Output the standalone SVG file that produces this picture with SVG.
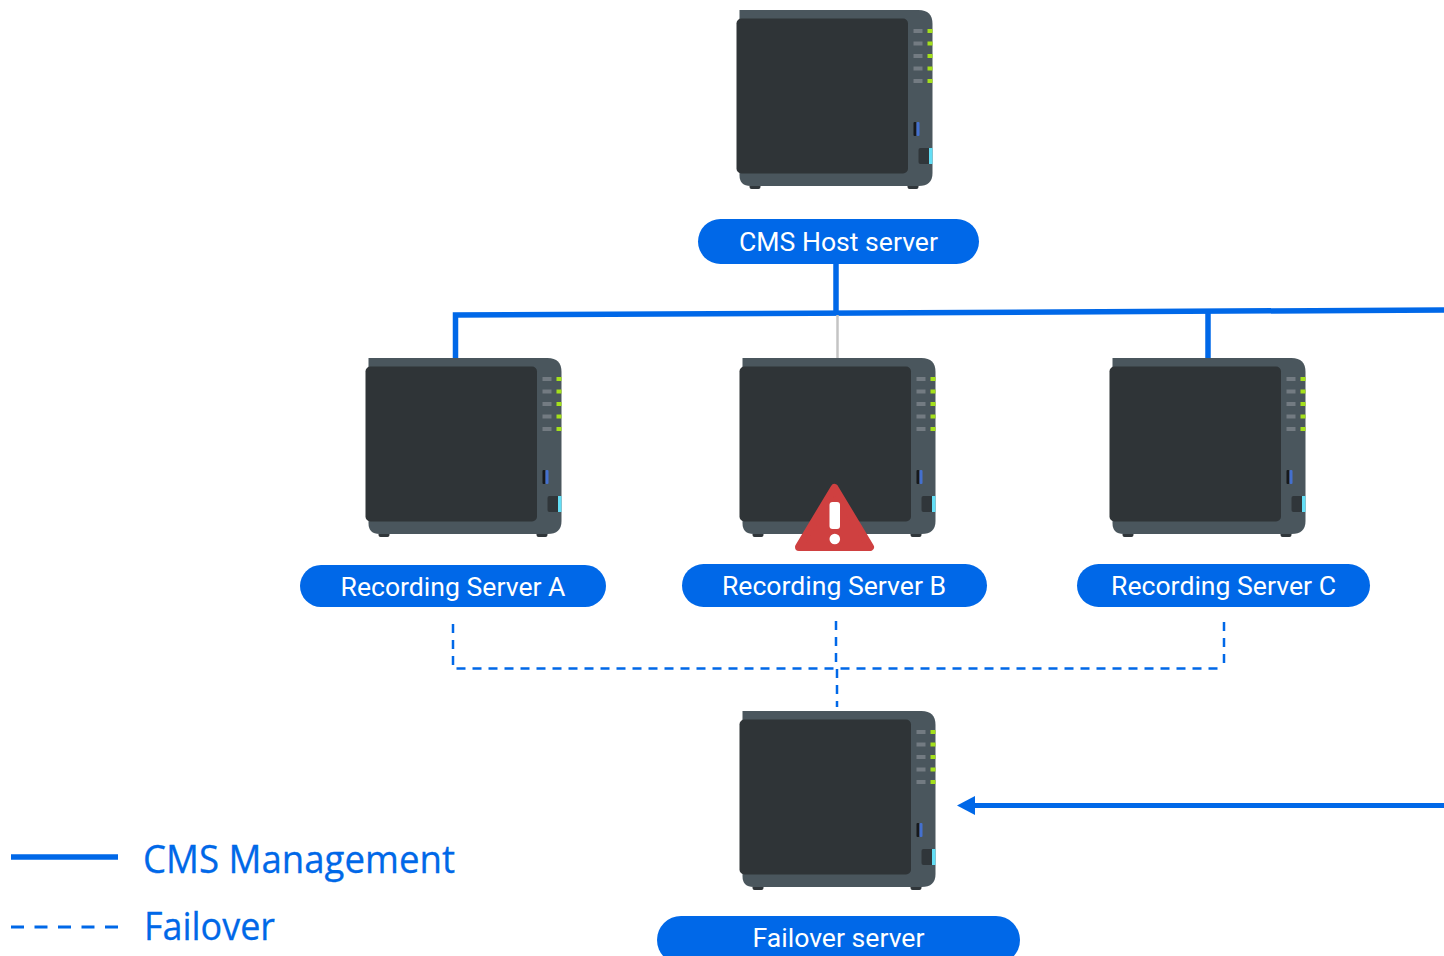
<svg xmlns="http://www.w3.org/2000/svg" width="1444" height="956" viewBox="0 0 1444 956">
<style>
.pill{fill:#0068e8}
.lbl{font-family:Roboto,"Liberation Sans",sans-serif;font-size:26.600px;fill:#fff;text-anchor:middle}
.leg{font-family:"Open Sans","Noto Sans",sans-serif;font-size:38px;fill:#0068e8;stroke:#0068e8;stroke-width:.3}
.solid{fill:none;stroke:#0068e8;stroke-width:5.500}
.dash{fill:none;stroke:#0068e8;stroke-width:2.500;stroke-dasharray:9 7}
</style>
<defs>
<g id="nas">
<path d="M13 176H24V177Q24 179 22 179H15Q13 179 13 177ZM171 176H182V177Q182 179 180 179H173Q171 179 171 177Z" fill="#30363a"/>
<path d="M3 0H182Q196 0 196 14V163Q196 176 182 176H14Q3 176 3 165Z" fill="#4a565d"/>
<rect x="0" y="8.500" width="171.500" height="155" rx="5" fill="#2f3437"/>
<g fill="#737b82"><rect x="177" y="19" width="9" height="4"/><rect x="177" y="31.500" width="9" height="4"/><rect x="177" y="44" width="9" height="4"/><rect x="177" y="56.500" width="9" height="4"/><rect x="177" y="69" width="9" height="4"/></g>
<g fill="#a4e01b"><rect x="191" y="19" width="5" height="4"/><rect x="191" y="31.500" width="5" height="4"/><rect x="191" y="44" width="5" height="4"/><rect x="191" y="56.500" width="5" height="4"/><rect x="191" y="69" width="5" height="4"/></g>
<rect x="177" y="112" width="3" height="14" rx="1" fill="#17191b"/>
<rect x="180" y="112" width="3" height="14" rx="1" fill="#4470cf"/>
<path d="M184 138H193V154H184Q182 154 182 152V140Q182 138 184 138Z" fill="#30363a"/>
<rect x="192.500" y="138" width="3.500" height="16" fill="#63def5"/>
</g>
</defs>
<g id="connectors">
<path class="solid" d="M455.500 358V315L1444 310"/>
<path class="solid" d="M836 264V312"/>
<path d="M837.500 315V358" fill="none" stroke="#c4c4c4" stroke-width="2.500"/>
<path class="solid" d="M1208 311V358"/>
<path class="dash" d="M453 624V668.500H1224"/>
<path class="dash" d="M1224 622V668"/>
<path class="dash" d="M836 621V668"/>
<path class="dash" d="M837 669V707"/>
<path d="M1444 805.500H970" fill="none" stroke="#0068e8" stroke-width="5"/>
<path d="M957 805.500L975 796V815Z" fill="#0068e8"/>
</g>
<g id="cms-host"><use href="#nas" x="736.500" y="10"/><rect class="pill" x="698" y="219" width="281" height="45" rx="22.500"/><text class="lbl" x="838.500" y="251">CMS Host server</text></g>
<g id="server-a"><use href="#nas" x="365.500" y="358"/><rect class="pill" x="300" y="565" width="306" height="42" rx="21"/><text class="lbl" x="453" y="596">Recording Server A</text></g>
<g id="server-b"><use href="#nas" x="739.500" y="358"/><rect class="pill" x="682" y="564" width="305" height="43" rx="21.500"/><text class="lbl" x="834" y="595">Recording Server B</text>
<path d="M834.500 488L870 547H799Z" fill="#cf4040" stroke="#cf4040" stroke-width="8" stroke-linejoin="round"/>
<rect x="829.500" y="502" width="10.500" height="27" rx="3" fill="#fff"/><circle cx="834.800" cy="539" r="5.300" fill="#fff"/></g>
<g id="server-c"><use href="#nas" x="1109.500" y="358"/><rect class="pill" x="1077" y="564" width="293" height="43" rx="21.500"/><text class="lbl" x="1223.500" y="595">Recording Server C</text></g>
<g id="failover"><use href="#nas" x="739.500" y="711"/><rect class="pill" x="657" y="916" width="363" height="48" rx="24"/><text class="lbl" x="838.500" y="947">Failover server</text></g>
<g id="legend">
<path d="M11 857H118" fill="none" stroke="#0068e8" stroke-width="5.500"/>
<path d="M11 927H118" fill="none" stroke="#0068e8" stroke-width="3" stroke-dasharray="13 10.500"/>
<text class="leg" x="143" y="873" textLength="312" lengthAdjust="spacingAndGlyphs">CMS Management</text>
<text class="leg" x="144" y="940" textLength="131" lengthAdjust="spacingAndGlyphs">Failover</text>
</g>
</svg>
